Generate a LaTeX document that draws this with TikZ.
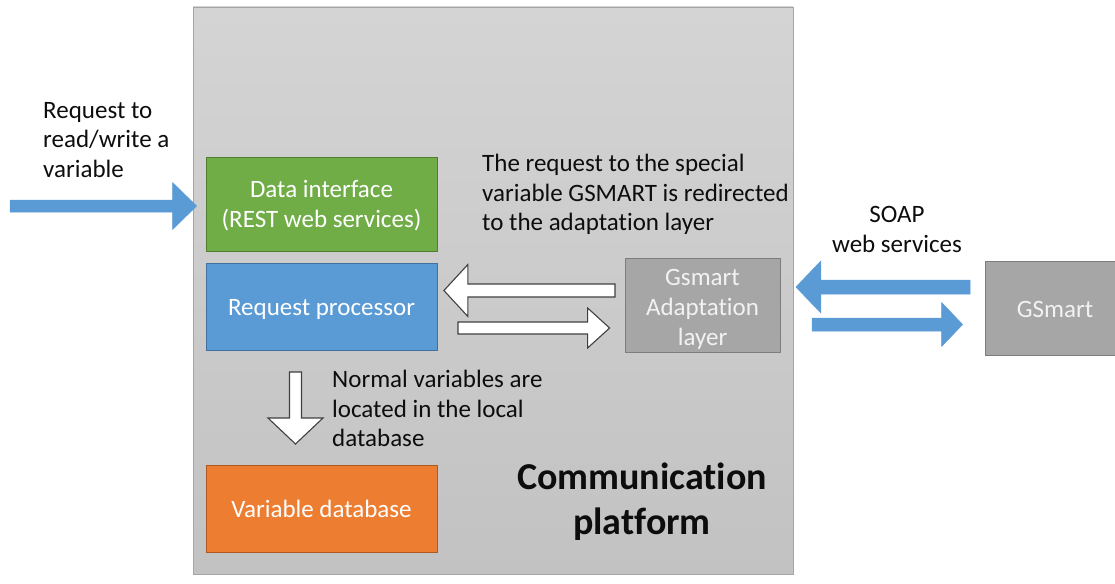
\documentclass[tikz,border=0pt]{standalone}
\usepackage{fontspec}
\setmainfont{Carlito}[Ligatures=NoCommon]
\usetikzlibrary{calc}
\definecolor{platTop}{RGB}{212,212,212}
\definecolor{platBot}{RGB}{194,194,194}
\definecolor{platEdge}{RGB}{165,165,165}
\definecolor{cGreen}{RGB}{112,173,71}
\definecolor{cGreenD}{RGB}{80,126,50}
\definecolor{cBlue}{RGB}{91,155,213}
\definecolor{cBlueD}{RGB}{65,113,156}
\definecolor{cOrange}{RGB}{237,125,49}
\definecolor{cOrangeD}{RGB}{174,90,33}
\definecolor{cGray}{RGB}{166,166,166}
\definecolor{cGrayD}{RGB}{125,125,125}
\definecolor{cText}{RGB}{13,13,13}
\newcommand\blockarr[6]{%
  \coordinate (hb) at ($(#3)!#6!(#2)$);
  \draw[#1] ($(#2)!#4!90:(#3)$) -- ($(hb)!#4!90:(#3)$) -- ($(hb)!#5!90:(#3)$) -- (#3)
    -- ($(hb)!#5!-90:(#3)$) -- ($(hb)!#4!-90:(#3)$) -- ($(#2)!#4!-90:(#3)$) -- cycle;}
\newcommand\pushtop[1]{\rule{0pt}{#1}}
\tikzset{
  txt/.style={font=\fontsize{25}{29.6}\selectfont, text=cText, inner sep=0pt},
  boxnode/.style={draw, line width=0.8pt, text=white, align=center, inner sep=0pt,
    font=\fontsize{25}{29.6}\selectfont},
  bluearr/.style={fill=cBlue, draw=cBlue, line width=0.5pt},
  whitearr/.style={fill=white, draw=black!75, line width=1.1pt, line join=miter},
}
\begin{document}
\begin{tikzpicture}[x=1pt,y=-1pt]
\useasboundingbox (0,0) rectangle (1115,583);
% platform
\path[top color=platTop, bottom color=platBot, draw=platEdge, line width=0.8pt]
  (193,7) rectangle (793,574);
% boxes
\node[boxnode, fill=cGreen, draw=cGreenD, minimum width=231pt, minimum height=94pt]
  (di) at (321.5,204) {\pushtop{21pt}Data interface\\(REST web services)};
\node[boxnode, fill=cBlue, draw=cBlueD, minimum width=231pt, minimum height=87pt]
  (rp) at (321.5,306.5) {\pushtop{21.5pt}Request processor};
\node[boxnode, fill=cOrange, draw=cOrangeD, minimum width=231pt, minimum height=87pt]
  (vd) at (321.5,508.5) {\pushtop{19pt}Variable database};
\node[boxnode, fill=cGray, draw=cGrayD, minimum width=155pt, minimum height=94pt, text=white!95!black]
  (gal) at (702.5,305) {\pushtop{25pt}Gsmart\\Adaptation\\layer};
\node[boxnode, fill=cGray, draw=cGrayD, minimum width=140pt, minimum height=94pt, text=white!95!black]
  (gs) at (1055,308) {\pushtop{19pt}GSmart};
% texts
\node[txt, align=left, anchor=north west] (t1) at (43,102) {Request to\\read/write a\\variable};
\node[txt, align=left, anchor=north west] (t2) at (482,154) {The request to the special\\variable GSMART is redirected\\to the adaptation layer};
\node[txt, align=center, anchor=north] (t3) at (897,206) {SOAP\\web services};
\node[txt, align=left, anchor=north west] (t4) at (332,370) {Normal variables are\\located in the local\\database};
\node[txt, align=center, anchor=north, font=\fontsize{38}{44.5}\selectfont\bfseries] (t5) at (642,463) {Communication\\platform};
% arrow end points
\coordinate (inT) at (10,206);
\coordinate (inH) at ($(di.west)+(-9,2)$);
\coordinate (wlT) at (615,290.5);
\coordinate (wlH) at ($(rp.east)+(6.5,-16)$);
\coordinate (wrT) at (458,328);
\coordinate (wrH) at ($(gal.west)+(-15,23)$);
\coordinate (blT) at (970,287);
\coordinate (blH) at ($(gal.east)+(15.5,-18)$);
\coordinate (brT) at (812,324.5);
\coordinate (brH) at ($(gs.west)+(-22,16.5)$);
\coordinate (dT) at (295.5,372);
\coordinate (dH) at (295.5,444);
% arrows
\blockarr{bluearr}{inT}{inH}{6pt}{23.5pt}{24pt}
\blockarr{whitearr}{wlT}{wlH}{6.5pt}{26pt}{24pt}
\blockarr{whitearr}{wrT}{wrH}{6pt}{20pt}{22pt}
\blockarr{bluearr}{blT}{blH}{7pt}{26pt}{25pt}
\blockarr{bluearr}{brT}{brH}{6.5pt}{22pt}{21pt}
\blockarr{whitearr}{dT}{dH}{6pt}{27.5pt}{26pt}
\end{tikzpicture}
\end{document}
